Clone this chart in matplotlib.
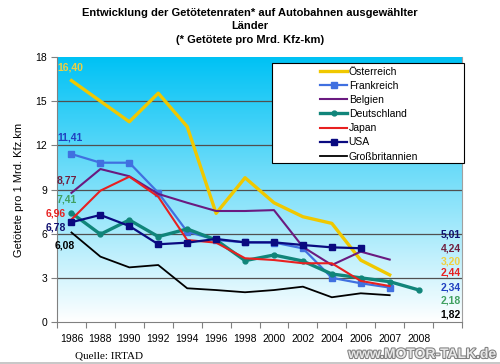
import numpy as np
import matplotlib
matplotlib.use("Agg")
import matplotlib.pyplot as plt
from matplotlib.patches import Rectangle
import matplotlib.patheffects as pe

plt.rcParams['font.family'] = ['Liberation Sans', 'DejaVu Sans']

years = ["1986", "1988", "1990", "1992", "1994", "1996", "1998", "2000",
         "2002", "2004", "2006", "2007", "2008"]
nan = np.nan
oesterreich = [16.40, 15.0, 13.6, 15.54, 13.27, 7.38, 9.8, 8.1, 7.15, 6.7, 4.2, 3.20, nan]
frankreich = [11.41, 10.82, 10.82, 8.78, 6.14, 5.57, 5.41, 5.40, 5.0, 3.0, 2.63, 2.34, nan]
belgien = [8.77, 10.39, 9.9, 8.7, 8.1, 7.54, 7.54, 7.6, 5.1, 3.87, 4.78, 4.24, nan]
deutschland = [7.41, 5.96, 6.93, 5.8, 6.32, 5.57, 4.17, 4.55, 4.14, 3.26, 3.0, 2.74, 2.18]
japan = [6.96, 8.92, 9.87, 8.51, 5.57, 5.39, 4.33, 4.21, 3.99, 3.99, 2.79, 2.44, nan]
usa = [6.78, 7.27, 6.52, 5.28, 5.39, 5.64, 5.41, 5.41, 5.23, 5.07, 5.01, nan, nan]
gb = [6.08, 4.44, 3.71, 3.87, 2.29, 2.17, 2.02, 2.17, 2.4, 1.68, 1.95, 1.82, nan]

names = ["Österreich", "Frankreich", "Belgien", "Deutschland", "Japan", "USA", "Großbritannien"]
series = [oesterreich, frankreich, belgien, deutschland, japan, usa, gb]
colors = ["#F0C800", "#4070E0", "#6A1A80", "#10857A", "#E82020", "#0A0A80", "#000000"]
widths = [2.4, 1.6, 1.5, 2.4, 1.5, 1.6, 1.3]
markers = [None, "s", None, "o", None, "s", None]
msizes = [0, 4, 0, 3.5, 0, 4.5, 0]

start_labels = ["16,40", "11,41", "8,77", "7,41", "6,96", "6,78", "6,08"]
end_labels = ["3,20", "2,34", "4,24", "2,18", "2,44", "5,01", "1,82"]
label_colors = ["#F0D040", "#2040C0", "#702040", "#40A060", "#E82020", "#101070", "#000000"]

W, H = 500, 364
fig = plt.figure(figsize=(W / 100, H / 100), dpi=100)
fig.patch.set_facecolor("white")
L, R, T, B = 57, 462, 57, 322
ax = fig.add_axes([L / W, 1 - B / H, (R - L) / W, (B - T) / H])

# gradient background
grad = np.linspace(0, 1, 256).reshape(-1, 1)
top = np.array([0.0, 0.76, 0.96])
bot = np.array([1.0, 1.0, 1.0])
img = top[None, None, :] * (1 - grad[:, :, None]) + bot[None, None, :] * grad[:, :, None]
ax.imshow(img, extent=[0, 1, 0, 1], transform=ax.transAxes, aspect="auto", zorder=0)

x = np.arange(len(years))
for s, n, c, w, m, ms in zip(series, names, colors, widths, markers, msizes):
    ax.plot(x, s, color=c, lw=w, marker=m, ms=ms, label=n, zorder=3)

ax.set_xlim(-0.5, 13.5)
ax.set_ylim(0, 18)
ax.set_yticks(np.arange(0, 19, 3))
ax.set_xticks(np.arange(-0.5, 14, 1))
ax.set_xticklabels([])
ax.set_xticks(x, minor=True)
ax.set_xticklabels(years, minor=True, fontsize=7.5)
ax.tick_params(axis="x", which="minor", length=0, pad=9)
ax.tick_params(axis="x", which="major", length=4, color="#808080", direction="out")
ax.tick_params(axis="y", length=4, color="#808080", labelsize=7.5, pad=3)
for yv in [3, 6, 9, 12, 15]:
    ax.axhline(yv, color="#505050", lw=0.9, zorder=1)
for sp in ["top"]:
    ax.spines[sp].set_visible(False)
ax.spines["right"].set_color("#A0A0A0")
ax.spines["left"].set_color("#808080")
ax.spines["bottom"].set_color("#808080")

ax.set_ylabel("Getötete pro 1 Mrd. Kfz.km", fontsize=8, labelpad=8)

# start and end value labels
start_pos = [(-0.47, 17.32, "left"), (-0.47, 12.5, "left"), (-0.5, 9.58, "left"),
             (-0.5, 8.29, "left"), (-0.91, 7.34, "left"), (-0.91, 6.45, "left"),
             (-0.57, 5.23, "left")]
for lab, col, (px, py, ha) in zip(start_labels, label_colors, start_pos):
    ax.text(px, py, lab, color=col, fontsize=7.5, fontweight="bold", ha=ha, va="center",
            zorder=5, clip_on=False)
end_y = [4.08, 2.31, 4.96, 1.43, 3.33, 5.91, 0.48]
for lab, col, py in zip(end_labels, label_colors, end_y):
    ax.text(13.46, py, lab, color=col, fontsize=7.5, fontweight="bold", ha="right",
            va="center", zorder=5)

# legend box
fig.patches.append(Rectangle((272 / W, 1 - 163 / H), (464 - 272) / W, (163 - 63) / H,
                             transform=fig.transFigure, facecolor="white",
                             edgecolor="black", lw=0.8, zorder=4))
leg = fig.legend(loc="upper left", bbox_to_anchor=(318 / W, 1 - 64.5 / H), frameon=False,
                 fontsize=7.5, handlelength=2.6, handletextpad=0.15, labelspacing=0.4,
                 borderaxespad=0, borderpad=0.2)
leg.set_zorder(6)

# title
fig.text(0.5, 1 - 13 / H, "Entwicklung der Getötetenraten* auf Autobahnen ausgewählter",
         ha="center", va="center", fontsize=8, fontweight="bold")
fig.text(0.5, 1 - 26 / H, "Länder", ha="center", va="center", fontsize=8, fontweight="bold")
fig.text(0.5, 1 - 40 / H, "(* Getötete pro Mrd. Kfz-km)", ha="center", va="center",
         fontsize=8, fontweight="bold")

fig.text(75 / W, 1 - 356 / H, "Quelle: IRTAD", family="Liberation Serif", fontsize=8,
         ha="left", va="center")
fig.text(496 / W, 1 - 354 / H, "www.MOTOR-TALK.de", fontsize=10, fontweight="bold",
         ha="right", va="center", color="#E8E8E8",
         path_effects=[pe.withStroke(linewidth=1.5, foreground="#808080")])
fig.patches.append(Rectangle((0, 0), 1, 2.5 / H, transform=fig.transFigure,
                             facecolor="#C8C8C8", edgecolor="none"))

fig.savefig("out.png", dpi=100)
